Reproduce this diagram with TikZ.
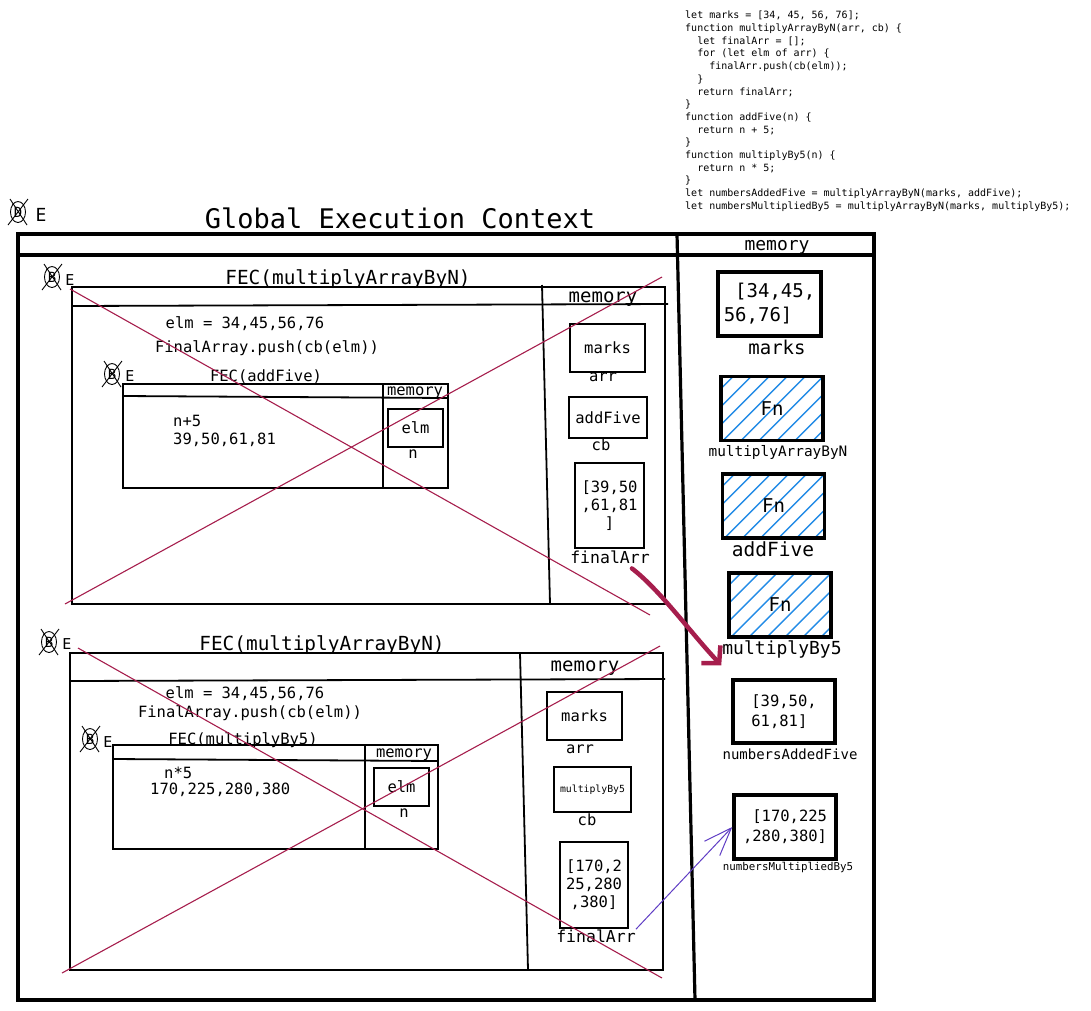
\documentclass[tikz,border=0pt]{standalone}
\usepackage{fontspec}
\setmainfont{DejaVu Sans Mono}
\setmonofont{DejaVu Sans Mono}
\usepackage{tikz}
\usetikzlibrary{arrows.meta,positioning}
\definecolor{crimson}{HTML}{A61E4D}
\definecolor{hatchblue}{HTML}{228BE6}
\definecolor{linkviolet}{HTML}{5F3DC4}
\newcommand{\fsz}[2]{\fontsize{#1}{#2}\selectfont}
\tikzstyle{gframe}=[line width=3.2pt]
\tikzstyle{fframe}=[line width=1.8pt]
\tikzstyle{slot}=[draw,line width=1.8pt,inner sep=0pt,font=\fsz{15.5}{18}]
\tikzstyle{gslot}=[draw,line width=3.5pt,inner sep=0pt,font=\fsz{15.5}{20},align=left]
\tikzstyle{fnslot}=[gslot,minimum width=102pt,minimum height=64pt,font=\fsz{19}{23},
  path picture={\foreach \k in {-70,-52,...,110}
    \draw[hatchblue,line width=1.4pt] ([xshift=\k pt]path picture bounding box.south west) -- ++(90pt,90pt);}]
\tikzstyle{lbl}=[inner sep=0pt,anchor=base]
\tikzstyle{xout}=[crimson,line width=1.1pt]
\tikzstyle{retarrow}=[crimson,line width=4.5pt,line cap=round,-{Straight Barb[length=12pt,width=26pt]}]
\tikzstyle{retlink}=[linkviolet,line width=1pt,-{Straight Barb[length=28pt,width=21pt]}]
% crossed-out marker: x, y, letter
\newcommand{\voided}[3]{%
  \draw[line width=0.9pt] (#1,#2) ellipse [x radius=7.5pt,y radius=10.5pt];
  \node[inner sep=0pt,font=\fsz{14}{14}] at (#1,#2) {#3};
  \draw[line width=0.9pt] (#1-10,#2+13) -- (#1+10,#2-13) (#1-8,#2-13) -- (#1+9,#2+13);}

\begin{document}
\begin{tikzpicture}[x=1pt,y=-1pt]
\useasboundingbox (0,0) rectangle (1091,1010);

% source code
\node[inner sep=0pt,anchor=north west,align=left,font=\fsz{10}{12.7}] (code) at (685,11) {%
let marks = [34, 45, 56, 76];\\
function multiplyArrayByN(arr, cb) \{\\
~~let finalArr = [];\\
~~for (let elm of arr) \{\\
~~~~finalArr.push(cb(elm));\\
~~\}\\
~~return finalArr;\\
\}\\
function addFive(n) \{\\
~~return n + 5;\\
\}\\
function multiplyBy5(n) \{\\
~~return n * 5;\\
\}\\
let numbersAddedFive = multiplyArrayByN(marks, addFive);\\
let numbersMultipliedBy5 = multiplyArrayByN(marks, multiplyBy5);};

% global execution context
\node[lbl,font=\fsz{27}{27}] (gec) at (400,228) {Global Execution Context};
\voided{18}{212}{D}
\node[lbl,font=\fsz{18}{18}] (gE) at (41,221) {E};
\draw[gframe] (18,234) rectangle (874,1000);
\draw[gframe] (18,255) -- (874,255);
\draw[gframe] (677,234) -- (695,1000);
\node[lbl,font=\fsz{18}{18}] (gmem) at (777,250) {memory};

\node[gslot,minimum width=103pt,minimum height=64pt,font=\fsz{19}{24}] (gMarks) at (769.5,304) {~[34,45,\\56,76]};
\node[lbl,font=\fsz{19}{19}] (gMarksL) at (777,354) {marks};
\node[fnslot] (gFnMul) at (772,408.5) {Fn};
\node[lbl,font=\fsz{14.4}{14.4}] (gFnMulL) at (778,456) {multiplyArrayByN};
\node[fnslot] (gFnAdd) at (773.5,506) {Fn};
\node[lbl,font=\fsz{19.5}{19.5}] (gFnAddL) at (773,556) {addFive};
\node[fnslot] (gFnBy5) at (780,605) {Fn};
\node[lbl,font=\fsz{18}{18}] (gFnBy5L) at (782,654) {multiplyBy5};
\node[gslot,minimum width=102pt,minimum height=63pt] (gAdded) at (784,711.5) {[39,50,\\61,81]};
\node[lbl,font=\fsz{14}{14}] (gAddedL) at (790,759) {numbersAddedFive};
\node[gslot,minimum width=102pt,minimum height=64pt] (gMult) at (785,827) {~[170,225\\,280,380]};
\node[lbl,font=\fsz{10.8}{10.8}] (gMultL) at (788,870) {numbersMultipliedBy5};

% first FEC(multiplyArrayByN)
\voided{52}{277}{B}
\node[lbl,font=\fsz{15}{15}] (f1E) at (70,285) {E};
\node[lbl,font=\fsz{19.4}{19.4}] (f1title) at (348,284) {FEC(multiplyArrayByN)};
\draw[fframe] (72,287) rectangle (665,604);
\draw[fframe] (72,306) -- (668,304);
\draw[fframe] (542,285) -- (550,604);
\node[lbl,font=\fsz{19}{19}] (f1mem) at (603,302) {memory};
\node[lbl,font=\fsz{15.5}{15.5}] (f1elm) at (245,328) {elm = 34,45,56,76};
\node[lbl,font=\fsz{15.5}{15.5}] (f1push) at (267,352) {FinalArray.push(cb(elm))};
\node[slot,minimum width=75pt,minimum height=48pt] (m1marks) at (607.5,348) {marks};
\node[lbl,font=\fsz{15.5}{15.5}] (m1marksL) at (603,381) {arr};
\node[slot,minimum width=78pt,minimum height=41pt] (m1cb) at (608,417.5) {addFive};
\node[lbl,font=\fsz{15.5}{15.5}] (m1cbL) at (601,450) {cb};
\node[slot,minimum width=69pt,minimum height=85pt,align=center] (m1final) at (609.5,505.5) {[39,50\\,61,81\\]};
\node[lbl,font=\fsz{16.5}{16.5}] (f1lab) at (610,563) {finalArr};

% FEC(addFive)
\voided{112}{374}{B}
\node[lbl,font=\fsz{15}{15}] (i1E) at (130,381) {E};
\node[lbl,font=\fsz{15.5}{15.5}] (i1title) at (266,381) {FEC(addFive)};
\draw[fframe] (123,384) rectangle (448,488);
\draw[fframe] (123,396) -- (448,398);
\draw[fframe] (383,384) -- (383,488);
\node[lbl,font=\fsz{15.5}{15.5}] (i1mem) at (415,395) {memory};
\node[lbl,anchor=base west,font=\fsz{15.5}{15.5}] (i1expr) at (173,426) {n+5};
\node[lbl,anchor=base west,font=\fsz{15.5}{15.5}] (i1vals) at (173,444) {39,50,61,81};
\node[slot,minimum width=55pt,minimum height=38pt] (i1elm) at (415.5,428) {elm};
\node[lbl,font=\fsz{15.5}{15.5}] (i1elmL) at (413,458) {n};

% second FEC(multiplyArrayByN)
\voided{49}{642}{B}
\node[lbl,font=\fsz{15}{15}] (f2E) at (67,649) {E};
\node[lbl,font=\fsz{19.4}{19.4}] (f2title) at (322,650) {FEC(multiplyArrayByN)};
\draw[fframe] (70,653) rectangle (663,970);
\draw[fframe] (70,681) -- (665,679);
\draw[fframe] (520,653) -- (528,970);
\node[lbl,font=\fsz{19}{19}] (f2mem) at (585,671) {memory};
\node[lbl,font=\fsz{15.5}{15.5}] (f2elm) at (245,698) {elm = 34,45,56,76};
\node[lbl,font=\fsz{15.5}{15.5}] (f2push) at (250,717) {FinalArray.push(cb(elm))};
\node[slot,minimum width=75pt,minimum height=48pt] (m2marks) at (584.5,716) {marks};
\node[lbl,font=\fsz{15.5}{15.5}] (m2marksL) at (580,753) {arr};
\node[slot,minimum width=77pt,minimum height=45pt,font=\fsz{9.8}{9.8}] (m2cb) at (592.5,789.5) {multiplyBy5};
\node[lbl,font=\fsz{15.5}{15.5}] (m2cbL) at (587,825) {cb};
\node[slot,minimum width=68pt,minimum height=86pt,align=center] (m2final) at (594,885) {[170,2\\25,280\\,380]};
\node[lbl,font=\fsz{16.5}{16.5}] (f2lab) at (596,942) {finalArr};

% FEC(multiplyBy5)
\voided{90}{739}{B}
\node[lbl,font=\fsz{15}{15}] (i2E) at (108,747) {E};
\node[lbl,font=\fsz{15.5}{15.5}] (i2title) at (243,744) {FEC(multiplyBy5)};
\draw[fframe] (113,745) rectangle (438,849);
\draw[fframe] (113,759) -- (438,761);
\draw[fframe] (365,745) -- (365,849);
\node[lbl,font=\fsz{15.5}{15.5}] (i2mem) at (404,757) {memory};
\node[lbl,anchor=base west,font=\fsz{15.5}{15.5}] (i2expr) at (164,778) {n*5};
\node[lbl,anchor=base west,font=\fsz{15.5}{15.5}] (i2vals) at (150,794) {170,225,280,380};
\node[slot,minimum width=55pt,minimum height=38pt] (i2elm) at (401.5,787) {elm};
\node[lbl,font=\fsz{15.5}{15.5}] (i2elmL) at (404,817) {n};

% finished contexts crossed out
\draw[xout] (70,289) -- (650,615);
\draw[xout] (65,604) -- (662,277);
\draw[xout] (78,648) -- (662,978);
\draw[xout] (62,973) -- (660,646);

% returned arrays
\draw[retarrow] ([shift={(-18,5)}]f1lab.south east) .. controls (660,590) and (690,632) .. ([shift={(-10,-13)}]gAdded.north west);
\draw[retlink] (f2lab.north east) -- (gMult.west);
\end{tikzpicture}
\end{document}
